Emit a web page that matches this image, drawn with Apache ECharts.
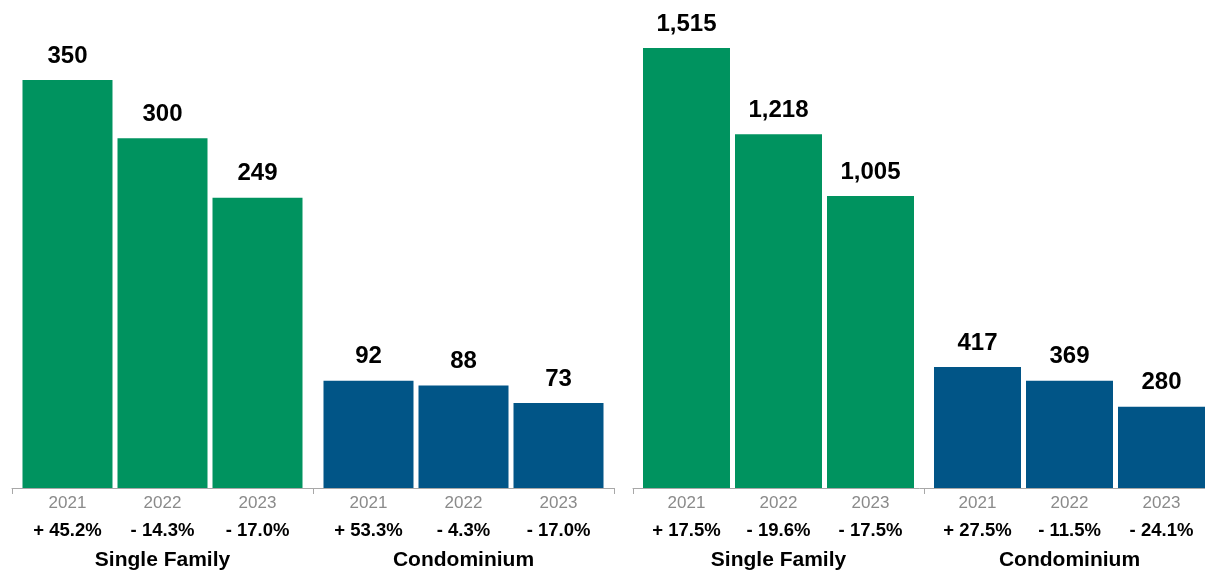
<!DOCTYPE html>
<html>
<head>
<meta charset="utf-8">
<script src="https://cdn.jsdelivr.net/npm/echarts@6/dist/echarts.min.js"></script>
<style>
html,body{margin:0;padding:0;background:#fff;}
#chart{width:1205px;height:574px;}
</style>
</head>
<body>
<div id="chart"></div>
<script>
// ---- data ----
const groups = ['Single Family', 'Condominium'];
const years = ['2021', '2022', '2023'];

const leftSingleFamily = [350, 300, 249];
const leftCondominium = [92, 88, 73];
const leftSingleFamilyChange = ['+ 45.2%', '- 14.3%', '- 17.0%'];
const leftCondominiumChange = ['+ 53.3%', '- 4.3%', '- 17.0%'];

const rightSingleFamily = [1515, 1218, 1005];
const rightCondominium = [417, 369, 280];
const rightSingleFamilyChange = ['+ 17.5%', '- 19.6%', '- 17.5%'];
const rightCondominiumChange = ['+ 27.5%', '- 11.5%', '- 24.1%'];

// ---- styling ----
const GREEN = '#00935f';
const BLUE = '#015587';
const FONT = '"Liberation Sans", Arial, Helvetica, sans-serif';

const panels = [
  { sf: leftSingleFamily, co: leftCondominium, sfc: leftSingleFamilyChange, coc: leftCondominiumChange,
    grid: { left: 12, top: 21.7, width: 602, height: 466.3 }, max: 400, barWidth: 90, barGap: '5.56%' },
  { sf: rightSingleFamily, co: rightCondominium, sfc: rightSingleFamilyChange, coc: rightCondominiumChange,
    grid: { left: 633, top: 23.3, width: 582, height: 464.7 }, max: 1600, barWidth: 87, barGap: '5.75%' }
];

const grid = [], xAxis = [], yAxis = [], series = [];
panels.forEach((p, pi) => {
  grid.push(Object.assign({ containLabel: false, outerBoundsMode: 'none' }, p.grid));
  xAxis.push({
    type: 'category', gridIndex: pi, data: groups, boundaryGap: true,
    axisLine: { show: true, lineStyle: { color: '#a8a8a8', width: 1 } },
    axisTick: { show: true, length: 6, lineStyle: { color: '#a8a8a8' } },
    axisLabel: { margin: 62, fontFamily: FONT, fontSize: 21, fontWeight: 'bold', color: '#000' },
    splitLine: { show: false }
  });
  yAxis.push({ type: 'value', gridIndex: pi, min: 0, max: p.max, show: false, splitLine: { show: false } });
  years.forEach((yr, i) => {
    const stack = 'p' + pi + 'y' + i;
    const changes = [p.sfc[i], p.coc[i]];
    series.push({
      type: 'bar', xAxisIndex: pi, yAxisIndex: pi, stack: stack,
      data: [0, 0], barWidth: p.barWidth, barGap: p.barGap,
      itemStyle: { color: 'transparent' }, silent: true,
      label: {
        show: true, position: 'bottom', distance: 2,
        formatter: (params) => '{y|' + yr + '}\n{p|' + changes[params.dataIndex] + '}',
        rich: {
          y: { fontFamily: FONT, fontSize: 17, color: '#8a8a8a', lineHeight: 27, align: 'center' },
          p: { fontFamily: FONT, fontSize: 18.5, fontWeight: 'bold', color: '#000', lineHeight: 27, align: 'center' }
        }
      }
    });
    series.push({
      type: 'bar', xAxisIndex: pi, yAxisIndex: pi, stack: stack,
      data: [
        { value: p.sf[i], itemStyle: { color: GREEN } },
        { value: p.co[i], itemStyle: { color: BLUE } }
      ],
      barWidth: p.barWidth, barGap: p.barGap,
      label: {
        show: true, position: 'top', distance: 12,
        fontFamily: FONT, fontSize: 24, fontWeight: 'bold', color: '#000',
        formatter: (params) => Number(params.value).toLocaleString('en-US')
      }
    });
  });
});

const chart = echarts.init(document.getElementById('chart'), null, { renderer: 'canvas' });
chart.setOption({
  animation: false,
  backgroundColor: '#ffffff',
  grid, xAxis, yAxis, series,
  legend: { show: false },
  tooltip: { show: false }
});
</script>
</body>
</html>
